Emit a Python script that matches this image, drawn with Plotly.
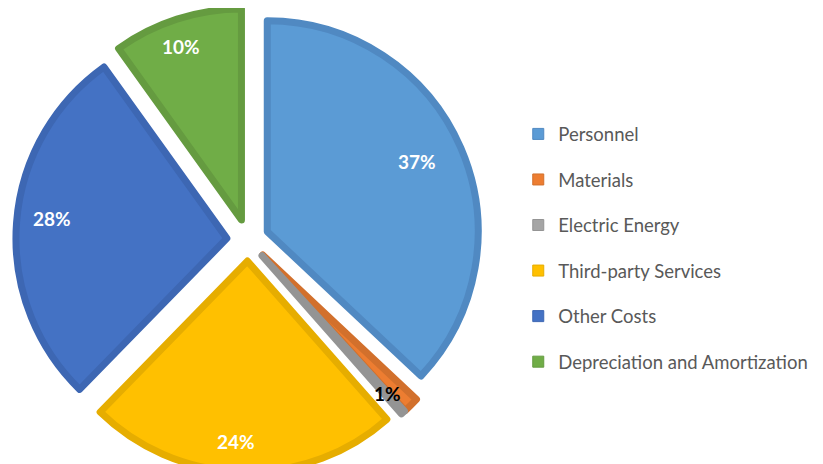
import math
import plotly.graph_objects as go

categories = ["Personnel", "Materials", "Electric Energy", "Third-party Services",
              "Other Costs", "Depreciation and Amortization"]
values = [37.0, 1.2, 0.3, 23.8, 27.8, 9.9]
fill_colors = ["#5B9BD5", "#ED7D31", "#A5A5A5", "#FFC000", "#4472C4", "#70AD47"]
border_colors = ["#5089C2", "#D2702C", "#949494", "#E6AD00", "#3D67B3", "#659B40"]

# label placement style (fraction of radius from slice centre, angle tweak in degrees)
label_radius = [0.80, 0.93, 0.0, 0.89, 0.80, 0.83]
label_angle_tweak = [1.5, 2.5, 0.0, 0.0, 0.0, 0.0]
LABEL_SHIFT = (-7, -7)  # pixel nudge of labels

W, H = 823, 464
DOM_X = [0, 0.583]
DOM_Y = [0, 1]
PULL = 0.1

fig = go.Figure()
fig.add_trace(go.Pie(
    labels=categories, values=values, sort=False, direction="clockwise",
    rotation=0, pull=[PULL] * len(values),
    textinfo="none",
    marker=dict(colors=fill_colors, line=dict(color=border_colors, width=7)),
    domain=dict(x=DOM_X, y=DOM_Y),
    showlegend=False, hoverinfo="label+percent",
))

for name, col, bc in zip(categories, fill_colors, border_colors):
    fig.add_trace(go.Scatter(
        x=[None], y=[None], mode="markers", name=name, legendgroup=name,
        marker=dict(symbol="square", size=11, color=col, line=dict(color=bc, width=1)),
    ))

# percentage labels placed on the pie geometry (same maths as the pie)
total = sum(values)
cx = (DOM_X[0] + DOM_X[1]) / 2 * W
cy = (1 - (DOM_Y[0] + DOM_Y[1]) / 2) * H
r = min((DOM_X[1] - DOM_X[0]) * W, (DOM_Y[1] - DOM_Y[0]) * H) / (2 * (1 + PULL))
cum = 0.0
for v, fr, tw in zip(values, label_radius, label_angle_tweak):
    frac = v / total
    mid = (cum + frac / 2) * 360.0
    cum += frac
    pct = frac * 100
    if pct < 0.5:
        continue
    a = math.radians(mid)
    scx = cx + PULL * r * math.sin(a)
    scy = cy - PULL * r * math.cos(a)
    a2 = math.radians(mid + tw)
    px = scx + fr * r * math.sin(a2) + LABEL_SHIFT[0]
    py = scy - fr * r * math.cos(a2) + LABEL_SHIFT[1]
    color = "black" if pct < 2.5 else "white"
    fig.add_annotation(
        x=px / W, y=1 - py / H, xref="paper", yref="paper",
        xanchor="center", yanchor="middle",
        text=f"<b>{round(pct)}%</b>", showarrow=False,
        font=dict(family="Lato", size=19, color=color),
    )

fig.update_layout(
    width=W, height=H,
    margin=dict(l=0, r=0, t=0, b=0),
    paper_bgcolor="white", plot_bgcolor="white",
    xaxis=dict(visible=False), yaxis=dict(visible=False),
    legend=dict(x=0.62, y=0.483, xanchor="left", yanchor="middle",
                font=dict(family="Lato", size=18.5, color="#595959"),
                tracegroupgap=18.5, itemwidth=30),
)
fig.write_html("out.html")
